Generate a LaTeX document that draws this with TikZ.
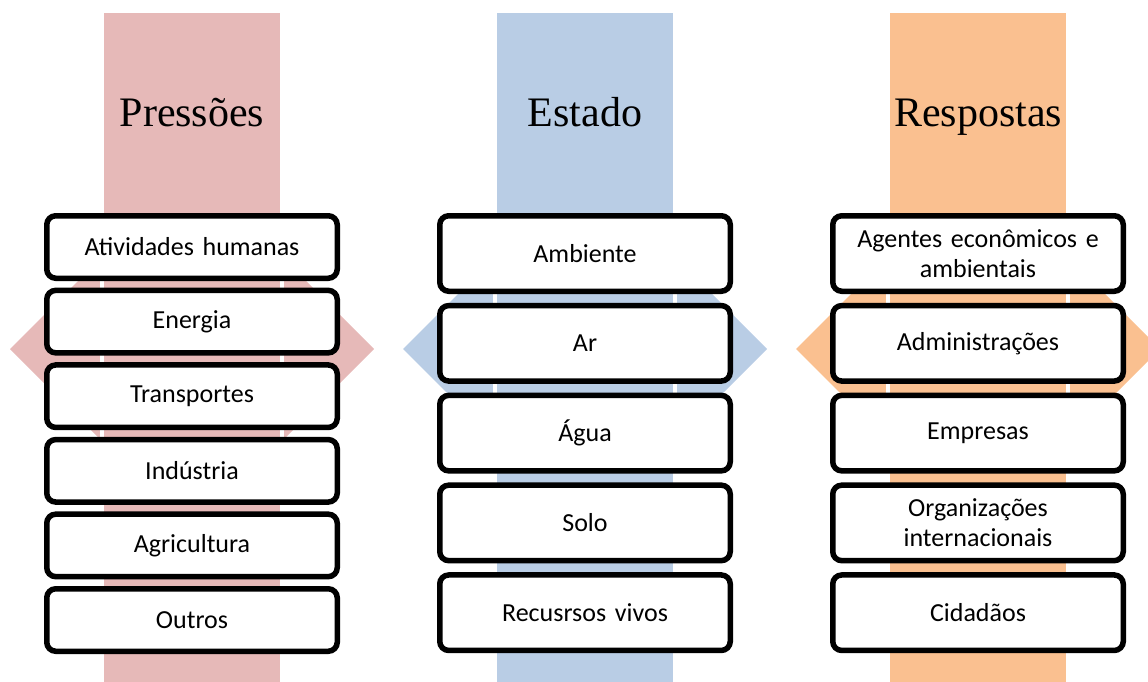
\documentclass[tikz,border=0pt]{standalone}
\usepackage{fontspec}
\setmainfont{Carlito}
\newfontfamily\titlefont{Liberation Serif}
\definecolor{pinkc}{HTML}{E6B9B8}
\definecolor{bluec}{HTML}{B9CDE5}
\definecolor{orangec}{HTML}{FAC090}
\begin{document}
\begin{tikzpicture}[x=1pt,y=-1pt,
  bandstyle/.style={fill=#1, draw=white, line width=4pt},
  hexstyle/.style={fill=#1},
  titlestyle/.style={anchor=base, inner sep=0pt, font=\titlefont\fontsize{42}{48}\selectfont},
  item/.style={draw=black, line width=5.5pt, rounded corners=9pt, fill=white,
    minimum width=290.5pt, text width=280pt, inner sep=0pt, align=center,
    font=\fontsize{26}{30}\selectfont},
  itemA/.style={item, minimum height=62.5pt},
  itemB/.style={item, minimum height=75.5pt}]
\useasboundingbox (0,0) rectangle (1148,682);
\clip (0,0) rectangle (1148,682);
% backgrounds
\foreach \cx/\col in {192/pinkc, 585/bluec, 978/orangec}{
  \fill[hexstyle=\col] (\cx-182,349) -- (\cx-82,249) -- (\cx+82,249) -- (\cx+182,349)
     -- (\cx+82,449) -- (\cx-82,449) -- cycle;
  \draw[bandstyle=\col] (\cx-90,11) rectangle (\cx+90,700);
}
% titles
\node[titlestyle] (tp) at (192,127) {Pressões};
\node[titlestyle] (te) at (585,127) {Estado};
\node[titlestyle] (tr) at (978,127) {Respostas};
% column 1
\node[itemA] (p1) at (192,247) {Atividades humanas};
\node[itemA] (p2) at (192,321.6) {Energia};
\node[itemA] (p3) at (192,396.2) {Transportes};
\node[itemA] (p4) at (192,470.8) {Indústria};
\node[itemA] (p5) at (192,545.4) {Agricultura};
\node[itemA] (p6) at (192,620) {Outros};
% column 2
\node[itemB] (e1) at (585,253.5) {Ambiente};
\node[itemB] (e2) at (585,343.3) {Ar};
\node[itemB] (e3) at (585,433.1) {Água};
\node[itemB] (e4) at (585,522.9) {Solo};
\node[itemB] (e5) at (585,612.7) {Recusrsos vivos};
% column 3
\node[itemB] (r1) at (978,253.5) {Agentes econômicos e\\ambientais};
\node[itemB] (r2) at (978,343.3) {Administrações};
\node[itemB] (r3) at (978,433.1) {Empresas};
\node[itemB] (r4) at (978,522.9) {Organizações\\internacionais};
\node[itemB] (r5) at (978,612.7) {Cidadãos};
\end{tikzpicture}
\end{document}
